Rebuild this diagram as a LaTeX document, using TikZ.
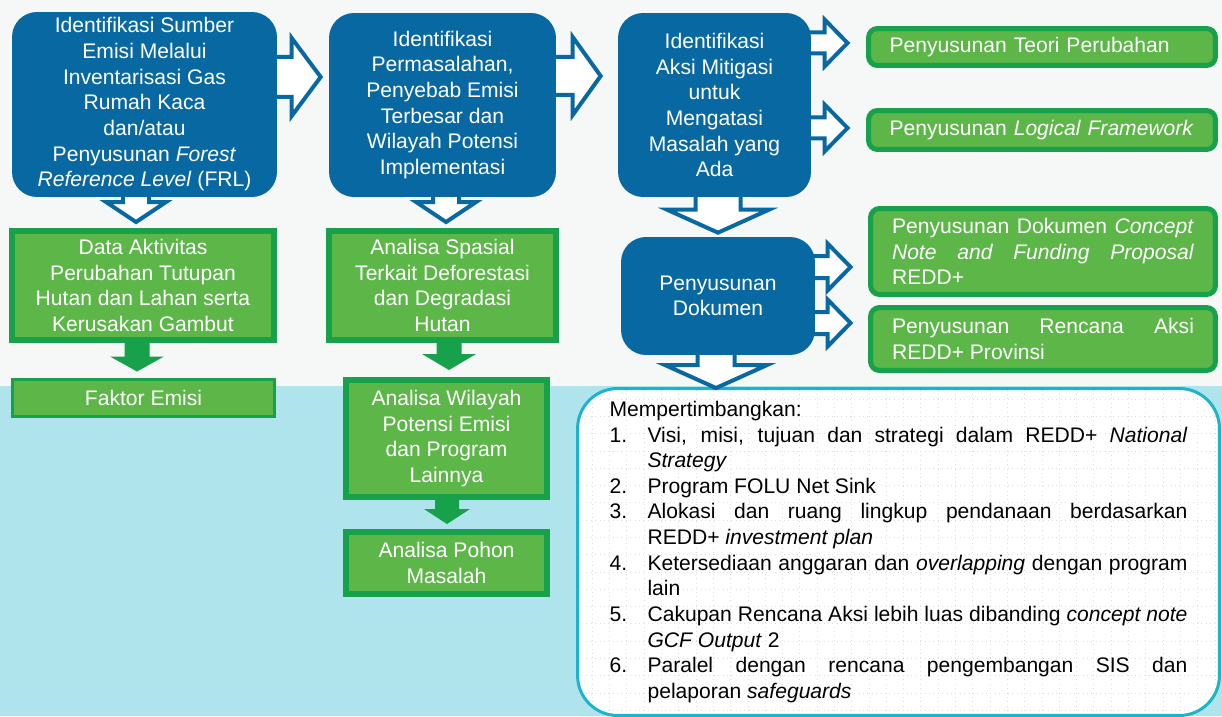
\documentclass[tikz,border=0pt]{standalone}
\usepackage{fontspec}
\setmainfont{Liberation Sans}
\usepackage{enumitem}
\usetikzlibrary{calc}

\definecolor{boxblue}{HTML}{0868A1}
\definecolor{leafgreen}{HTML}{5CB648}
\definecolor{darkgreen}{HTML}{16A14A}
\definecolor{topgrey}{HTML}{F6F7F7}
\definecolor{seacyan}{HTML}{B0E4ED}
\definecolor{rimcyan}{HTML}{1BB4CB}

\pgfdeclarelayer{background}
\pgfdeclarelayer{arrows}
\pgfsetlayers{background,arrows,main}

% block arrows: style, tail node anchor, tip coordinate, shaft half, head half, head length
\newcommand{\rightblock}[6]{%
  \filldraw[#1] ($(#2 |- #3)+(-10,-#4)$) -- ($(#3)+(-#6,-#4)$) -- ($(#3)+(-#6,-#5)$) -- (#3)
    -- ($(#3)+(-#6,#5)$) -- ($(#3)+(-#6,#4)$) -- ($(#2 |- #3)+(-10,#4)$) -- cycle;}
\newcommand{\downblock}[6]{%
  \filldraw[#1] ($(#3 |- #2)+(-#4,-10)$) -- ($(#3)+(-#4,-#6)$) -- ($(#3)+(-#5,-#6)$) -- (#3)
    -- ($(#3)+(#5,-#6)$) -- ($(#3)+(#4,-#6)$) -- ($(#3 |- #2)+(#4,-10)$) -- cycle;}

\tikzset{
  txt/.style={font=\fontsize{12}{14.6}\selectfont},
  bluebox/.style={txt, fill=boxblue, text=white, rounded corners=0.5cm, align=center, inner sep=0pt},
  greenbox/.style={txt, fill=leafgreen, draw=darkgreen, line width=0.12cm, text=white, align=center, inner sep=0pt},
  sidebox/.style={greenbox, line width=0.1cm, rounded corners=0.18cm},
  bigbox/.style={txt, fill=white, draw=rimcyan, line width=0.06cm, rounded corners=0.8cm, inner sep=0pt, align=justify,
    path picture={\draw[black!13, dotted, line width=0.5pt] (path picture bounding box.south west) grid[step=0.346cm] (path picture bounding box.north east);}},
  blockhollow/.style={fill=white, draw=boxblue, line width=0.08cm},
  greenhead/.style={fill=darkgreen, draw=none},
}

\begin{document}
\begin{tikzpicture}[x=0.02cm, y=-0.02cm]
\useasboundingbox (0,0) rectangle (1222,716);

% column 1
\node[bluebox, minimum width=5.3cm, minimum height=3.7cm] (b1) at (144.5,104.5) {Identifikasi Sumber\\Emisi Melalui\\Inventarisasi Gas\\Rumah Kaca\\dan/atau\\Penyusunan \textit{Forest}\\\textit{Reference Level} (FRL)};
\node[greenbox, minimum width=5.24cm, minimum height=2.18cm] (g1) at (143,285.5) {Data Aktivitas\\Perubahan Tutupan\\Hutan dan Lahan serta\\Kerusakan Gambut};
\node[greenbox, line width=0.06cm, minimum width=5.24cm, minimum height=0.74cm] (faktor) at (143.5,398) {Faktor Emisi};

% column 2
\node[bluebox, minimum width=4.54cm, minimum height=3.68cm] (b2) at (442.5,105) {Identifikasi\\Permasalahan,\\Penyebab Emisi\\Terbesar dan\\Wilayah Potensi\\Implementasi};
\node[greenbox, minimum width=4.54cm, minimum height=2.18cm] (g2) at (442.5,285.5) {Analisa Spasial\\Terkait Deforestasi\\dan Degradasi\\Hutan};
\node[greenbox, minimum width=4.02cm, minimum height=2.34cm] (g3) at (446.5,438.5) {Analisa Wilayah\\Potensi Emisi\\dan Program\\Lainnya};
\node[greenbox, minimum width=4.02cm, minimum height=1.24cm] (g4) at (446.5,563) {Analisa Pohon\\Masalah};

% column 3
\node[bluebox, minimum width=3.86cm, minimum height=3.68cm] (b3) at (714.5,105) {Identifikasi\\Aksi Mitigasi\\untuk\\Mengatasi\\Masalah yang\\Ada};
\node[bluebox, minimum width=3.88cm, minimum height=2.36cm] (b4) at (718,296) {Penyusunan\\Dokumen};

% right column
\node[sidebox, minimum width=6.94cm, minimum height=0.74cm, text width=6.1cm, align=left] (teori) at (1042,47) {Penyusunan Teori Perubahan};
\node[sidebox, minimum width=6.94cm, minimum height=0.78cm, text width=6.1cm, align=left] (logical) at (1042,130) {Penyusunan \textit{Logical Framework}};
\node[sidebox, minimum width=6.9cm, minimum height=1.72cm, text width=6.04cm, align=justify] (concept) at (1043,251.5) {Penyusunan Dokumen \textit{Concept}\linebreak \textit{Note and Funding Proposal}\linebreak REDD+};
\node[sidebox, minimum width=6.9cm, minimum height=1.26cm, text width=6.04cm, align=justify] (rencana) at (1043,339) {Penyusunan Rencana Aksi\linebreak REDD+ Provinsi};

\begin{pgfonlayer}{background}
\fill[topgrey] (0,0) rectangle (1222,386);
\fill[seacyan] (0,386) rectangle (1222,716);
\node[bigbox, minimum width=12.84cm, minimum height=6.54cm, text width=11.56cm] (pertimb) at (898.5,552) {Mempertimbangkan:
\begin{enumerate}[nosep, leftmargin=0.76cm, labelwidth=0.76cm, labelsep=0cm, align=left, label=\arabic*.]
\item Visi, misi, tujuan dan strategi dalam REDD+ \textit{National}\linebreak \textit{Strategy}
\item Program FOLU Net Sink
\item Alokasi dan ruang lingkup pendanaan berdasarkan\linebreak REDD+ \textit{investment plan}
\item Ketersediaan anggaran dan \textit{overlapping} dengan program\linebreak lain
\item Cakupan Rencana Aksi lebih luas dibanding \textit{concept note}\linebreak \textit{GCF Output} 2
\item Paralel dengan rencana pengembangan SIS dan\linebreak pelaporan \textit{safeguards}
\end{enumerate}};
\end{pgfonlayer}

% arrow tips
\coordinate (t12) at ($(b2.west)+(-8,-28)$);
\coordinate (t23) at ($(b3.west)+(-17,-29)$);
\coordinate (tteori) at ($(teori.west)+(-18.5,-4)$);
\coordinate (tlogic) at ($(logical.west)+(-18.5,-2)$);
\coordinate (tconcept) at ($(concept.west)+(-17.5,15.5)$);
\coordinate (trencana) at ($(rencana.west)+(-17.5,-16)$);
\coordinate (tg1) at ($(g1.north)+(-7,-6)$);
\coordinate (tg2) at ($(g2.north)+(3.5,-6)$);
\coordinate (tb4) at ($(b4.north)+(0,-4)$);
\coordinate (tbig) at ($(b4.south |- pertimb.north)+(-2,1)$);
\coordinate (tfaktor) at ($(faktor.north)+(-6.5,-6.5)$);
\coordinate (tg3) at ($(g3.north)+(2.5,-7)$);
\coordinate (tg4) at ($(g4.north)+(0.5,-5)$);

\begin{pgfonlayer}{arrows}
\rightblock{blockhollow}{b1.east}{t12}{20}{39}{29}
\rightblock{blockhollow}{b2.east}{t23}{19}{39}{28}
\rightblock{blockhollow}{b3.east}{tteori}{10.5}{23.5}{23}
\rightblock{blockhollow}{b3.east}{tlogic}{10.5}{23.5}{23}
\rightblock{blockhollow}{b4.east}{tconcept}{11}{23.5}{23}
\rightblock{blockhollow}{b4.east}{trencana}{11}{23.5}{23}
\downblock{blockhollow}{b1.south}{tg1}{13}{30}{20}
\downblock{blockhollow}{b2.south}{tg2}{13}{30}{20}
\downblock{blockhollow}{b3.south}{tb4}{22.5}{51}{23}
\downblock{blockhollow}{b4.south}{tbig}{18.5}{51}{23}
\downblock{greenhead}{g1.south}{tfaktor}{12.5}{27}{15}
\downblock{greenhead}{g2.south}{tg3}{12.5}{27}{16}
\downblock{greenhead}{g3.south}{tg4}{12}{23}{15}
\end{pgfonlayer}

\end{tikzpicture}
\end{document}
